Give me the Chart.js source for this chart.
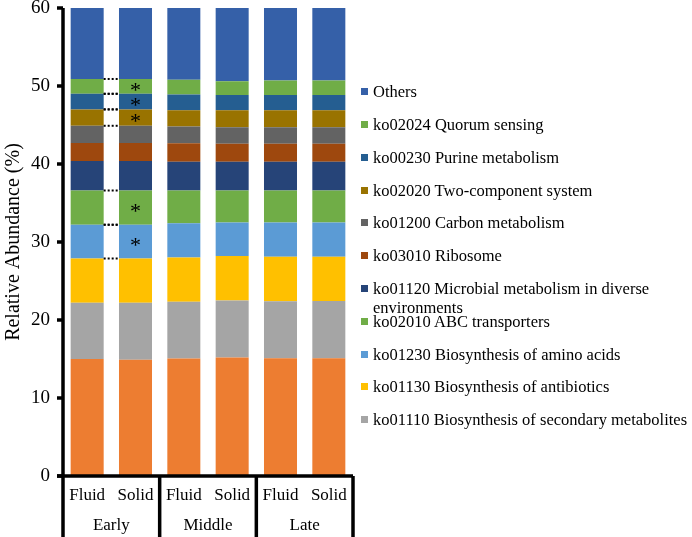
<!DOCTYPE html>
<html>
<head>
<meta charset="utf-8">
<script src="https://cdn.jsdelivr.net/npm/chart.js@4.4.1/dist/chart.umd.min.js"></script>
<style>
html,body{margin:0;padding:0;background:#fff;overflow:hidden;}
#wrap{position:relative;width:692px;height:537px;}
#legend{position:absolute;left:361px;top:0;width:331px;font-family:"Liberation Serif","Times New Roman",serif;font-size:16.5px;color:#000;}
.item{position:absolute;left:0;line-height:19px;}
.item i{position:absolute;left:0;top:6px;width:7px;height:7px;}
.item span{display:block;margin-left:12px;width:320px;}
</style>
</head>
<body>
<div id="wrap">
<canvas id="c" width="692" height="537"></canvas>
<div id="legend"></div>
</div>
<script>
// samples (x axis, two levels)
const samples = ["Fluid","Solid","Fluid","Solid","Fluid","Solid"];
const stages = ["Early","Middle","Late"];
const yTicks = [0,10,20,30,40,50,60];

// pathway names, bottom of the stack first
const names = [
  "ko01100 Metabolic pathways",
  "ko01110 Biosynthesis of secondary metabolites",
  "ko01130 Biosynthesis of antibiotics",
  "ko01230 Biosynthesis of amino acids",
  "ko02010 ABC transporters",
  "ko01120 Microbial metabolism in diverse environments",
  "ko03010 Ribosome",
  "ko01200 Carbon metabolism",
  "ko02020 Two-component system",
  "ko00230 Purine metabolism",
  "ko02024 Quorum sensing",
  "Others"
];

// relative abundance (%) per sample
const metabolic   = [15.0, 14.9, 15.05, 15.2, 15.1, 15.1];
const secondary   = [7.2, 7.3, 7.3, 7.3, 7.3, 7.35];
const antibiotics = [5.7, 5.7, 5.65, 5.7, 5.7, 5.65];
const aminoAcids  = [4.3, 4.3, 4.4, 4.3, 4.4, 4.4];
const abc         = [4.4, 4.4, 4.2, 4.1, 4.1, 4.1];
const microbial   = [3.8, 3.8, 3.7, 3.7, 3.7, 3.7];
const ribosome    = [2.3, 2.3, 2.35, 2.3, 2.3, 2.3];
const carbon      = [2.2, 2.2, 2.15, 2.1, 2.1, 2.1];
const twoComp     = [2.1, 2.1, 2.1, 2.2, 2.2, 2.2];
const purine      = [2.0, 2.0, 2.0, 1.95, 1.95, 1.95];
const quorum      = [1.9, 1.9, 1.9, 1.75, 1.85, 1.85];
const others      = [9.1, 9.1, 9.2, 9.4, 9.3, 9.3];

const series = [metabolic,secondary,antibiotics,aminoAcids,abc,microbial,ribosome,carbon,twoComp,purine,quorum,others];
const colors = ["#ED7D31","#A5A5A5","#FFC000","#5B9BD5","#70AD47","#264478","#9E480E","#636363","#997300","#255E91","#70AD47","#3560A8"];

// pathways marked * (Early fluid vs solid)
const sigNames = ["ko02024 Quorum sensing","ko00230 Purine metabolism","ko02020 Two-component system","ko02010 ABC transporters","ko01230 Biosynthesis of amino acids"];

const FONT = "'Liberation Serif','Times New Roman',serif";

const datasets = series.map((d,i)=>({
  label: names[i], data: d, backgroundColor: colors[i],
  borderWidth: 0, barPercentage: 0.683, categoryPercentage: 1
}));

// legend (the bottom series is not listed in the original)
const legend = document.getElementById('legend');
let row = 0;
for(let i=names.length-1;i>=1;i--){
  const el = document.createElement('div');
  el.className = 'item';
  el.style.top = (82.2 + row*32.8) + 'px';
  el.innerHTML = '<i style="background:'+colors[i]+'"></i><span></span>';
  el.querySelector('span').textContent = names[i];
  legend.appendChild(el);
  row++;
}

const deco = {
  id: 'deco',
  afterDatasetsDraw(chart){
    const {ctx} = chart;
    ctx.save();
    ctx.fillStyle = '#000';
    ctx.strokeStyle = '#000';
    ctx.font = '22px ' + FONT;
    ctx.textAlign = 'center';
    ctx.textBaseline = 'middle';
    chart.data.datasets.forEach((ds,di)=>{
      if(!sigNames.includes(ds.label)) return;
      const meta = chart.getDatasetMeta(di);
      const a = meta.data[0], b = meta.data[1];
      ctx.fillText('*', b.x, (b.y + b.base)/2 + 5);
      ctx.lineWidth = 2;
      ctx.setLineDash([2,2]);
      [a.y, a.base].forEach(py=>{
        ctx.beginPath();
        ctx.moveTo(a.x + a.width/2, py);
        ctx.lineTo(b.x - b.width/2, py);
        ctx.stroke();
      });
      ctx.setLineDash([]);
    });
    ctx.restore();
  },
  afterDraw(chart){
    const {ctx, chartArea:ca, scales:{x,y}} = chart;
    ctx.save();
    ctx.strokeStyle = '#000';
    ctx.lineWidth = 3.5;
    const line = (x1,y1,x2,y2)=>{ctx.beginPath();ctx.moveTo(x1,y1);ctx.lineTo(x2,y2);ctx.stroke();};
    line(ca.left, ca.top, ca.left, chart.height);
    y.ticks.forEach(t=>{const py=y.getPixelForValue(t.value); line(ca.left-6, py, ca.left, py);});
    line(ca.left-6, ca.bottom, ca.right, ca.bottom);
    ctx.fillStyle = '#000';
    ctx.font = '17px ' + FONT;
    ctx.textAlign = 'center';
    ctx.textBaseline = 'middle';
    stages.forEach((s,i)=>{
      const x0 = x.getPixelForValue(2*i), x1 = x.getPixelForValue(2*i+1);
      const edge = i < stages.length-1 ? (x1 + x.getPixelForValue(2*i+2))/2 : ca.right;
      line(edge, ca.bottom, edge, chart.height);
      ctx.fillText(s, (x0+x1)/2, ca.bottom + 50);
    });
    ctx.restore();
  }
};

new Chart(document.getElementById('c'), {
  type: 'bar',
  data: { labels: samples, datasets: datasets },
  options: {
    responsive: false,
    animation: false,
    layout: { padding: { top: 8, right: 339, left: 0, bottom: 0 } },
    plugins: { legend: { display: false }, tooltip: { enabled: false } },
    scales: {
      x: {
        stacked: true,
        grid: { display: false, drawTicks: false },
        border: { display: false },
        ticks: { color: '#000', font: { family: FONT, size: 17 }, padding: 9, maxRotation: 0 },
        afterFit: s => { s.height = 61; s.paddingLeft = 0; s.paddingRight = 0; }
      },
      y: {
        stacked: true, min: 0, max: 60,
        afterBuildTicks: s => { s.ticks = yTicks.map(v=>({value:v})); },
        grid: { display: false, drawTicks: false },
        border: { display: false },
        ticks: { color: '#000', font: { family: FONT, size: 19 }, padding: 13 },
        title: { display: true, text: 'Relative Abundance (%)', color: '#000', font: { family: FONT, size: 20 }, padding: 2 },
        afterFit: s => { s.width = 63; s.paddingTop = 0; s.paddingBottom = 0; }
      }
    }
  },
  plugins: [deco]
});
</script>
</body>
</html>
